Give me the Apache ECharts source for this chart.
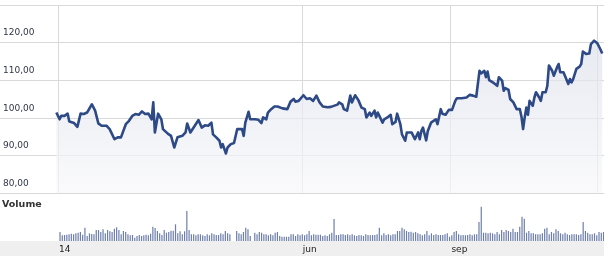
<!DOCTYPE html>
<html><head><meta charset="utf-8">
<script src="https://cdn.jsdelivr.net/npm/echarts@6/dist/echarts.min.js"></script>
<style>html,body{margin:0;padding:0;background:#fff}#c{width:604px;height:256px}</style>
</head><body><div id="c"></div>
<script>
// Price: days since 1 Jan 2014, closing value
const priceDays = [-1,1,2,3,4,6,7,10,11,12,14,16,18,21,23,25,27,30,32,35,37,39,42,44,46,48,50,52,54,56,58,59,60,62,64,65,68,70,72,74,77,79,80,82,84,87,89,91,93,95,96,98,100,101,102,104,105,107,109,111,112,114,115,116,118,119,122,124,126,127,129,130,132,134,136,139,140,142,144,146,147,149,152,154,156,158,160,162,164,167,169,170,173,174,176,177,179,181,182,184,186,188,190,191,193,194,196,197,198,199,201,202,204,206,207,209,210,212,213,215,216,219,220,221,223,224,225,226,228,229,231,232,234,235,237,238,240,242,244,246,247,250,251,253,255,257,258,259,261,262,264,265,266,267,270,272,273,275,276,277,279,280,282,283,284,286,287,288,289,290,291,292,294,295,296,298,299,300,302,303,304,306,307,309,310,311,313,314,316,317,318,319,321,323,324,325,327,329,330,332,334,336,337];
const priceValues = [101.4,99.6,100.5,100.1,100.5,101.1,99.0,98.6,98.3,97.6,101.1,101.0,101.4,103.6,101.9,98.5,97.9,97.9,97.0,94.3,94.8,94.8,98.3,99.2,100.5,101.0,100.8,101.7,101.0,101.1,99.6,104.1,96.1,101.1,99.6,97.0,95.8,95.2,92.1,94.8,95.2,96.1,98.5,96.1,97.4,99.4,97.4,98.0,97.9,98.7,95.6,94.8,93.9,92.1,93.0,90.5,92.1,93.0,93.3,97.0,96.5,97.0,95.2,98.7,101.6,99.6,99.6,99.5,98.6,100.1,99.6,101.4,102.3,103.0,103.0,102.5,102.8,102.3,104.3,105.0,104.3,104.5,106.0,105.0,105.2,104.5,105.9,104.1,103.0,102.8,102.9,102.8,103.5,104.1,103.6,102.3,101.9,105.9,104.1,106.0,104.7,102.7,102.3,100.1,101.4,100.5,101.9,100.1,101.4,100.5,98.7,99.6,100.1,100.8,98.3,98.9,101.1,98.3,95.6,93.9,96.1,96.1,95.2,94.3,96.1,94.3,96.5,97.4,94.0,96.5,98.7,98.7,99.6,98.3,102.3,101.1,100.8,102.1,102.1,104.5,105.2,105.2,104.7,105.4,106.1,105.9,105.9,105.6,112.5,111.8,112.5,110.8,112.3,110.0,109.2,108.5,110.8,109.9,107.2,107.9,107.4,105.0,104.1,104.5,102.3,102.3,100.3,97.0,100.1,102.7,100.8,104.5,103.2,105.4,106.8,105.4,104.5,106.8,106.8,108.5,113.9,112.5,111.2,113.4,114.3,112.1,112.1,111.6,109.0,110.3,109.4,110.3,113.0,113.6,114.3,117.6,117.0,117.1,119.6,120.5,119.8,118.1,117.1];

// Volume: one value per trading day (weekdays 2 Jan .. 4 Dec 2014, market holidays have no volume)
const tradingFirstDay = 1, tradingLastDay = 337;
const marketHolidays = [107, 110, 120];
const volumeValues = [
 9,5.7,6,6.3,6.7,7.3,6.7,7.7,8.3,9, 6.3,13.3,5,7.7,7,6.7,11,11,9,11.7, 7.7,11,9.7,9,12.3,13.7,11,6.7,10,9, 6.7,5.7,6,3.3,5,6,5,5.7,6.3, 5.7,7.3,14.3,13,10,7.7,6,11,8.3,9, 10.3,10.3,16.7,7.7,9.7,6.7,9.7, 30, 11,6.7,6.7,
 5.7,6.7,6.7,5.7,5,6.7,5.7,7.7,6.7,6, 6,7.7,6.7,10,7.7,6.7,
 10,7.7,6.7,9,13.3,11.7,5,
 8.3,6.7,9,8.3,6.7,6.7,5.7,6.7,5.7,8.3, 9,5,4.3,4.3,4.3,4.3,6.7,6.7,5,6.7, 5.7,6.7,5.7,6.7,10,5.7,6.7,6.3,6.3,6.3, 5,5.7,5,6.7,8.3, 22,
 6,6,6.7,6.7,6,6.7,5.7,6.7,5.7,5, 6,5.7,5,6.7,6,5.7,6,6,6.7,13.3, 5.7,7.7,6,6.7,5.7,6.7,6.7,10,10,13.3, 11.7,10,9,9.3,8.3,9,7.7,6.7,5.7,6.7, 10,5.7,7.7,6,6.7,6,6,6,6.7,7.7, 4.3,5.7,9,10,6.7,5.7,6,5.7,6,6.7, 5.7,6.7, 6.7,19, 34.3,
 8.3,8.3,7.7,8.3,7.7,6.7,9,6.7,11, 9,11,10,9,12.3,9,9,14.3,24.3,22.3, 8.3,10,7.7,7.7,6.7,6.7,6.7,7.7,12.3,13.3, 6.7,9,7.7,11.7,10,7.7,6.7,8.3,6.7,6, 6.7,6.7,6.7,6,6.7,19,10,8.3,6.7,6.7, 7.7,5.7,9,8.3,9
];

const yTickValues = [80, 90, 100, 110, 120, 130];
const gridDates = ['2014-01-01', '2014-06-01', '2014-09-01', '2014-12-01'];
const tickLabels = ['14', 'jun', 'sep'];

const DAY = 86400000;
const BASE = Date.UTC(2014, 0, 1);
const toTs = s => Date.UTC(+s.slice(0,4), +s.slice(5,7) - 1, +s.slice(8,10));
const gridTs = gridDates.map(toTs);
const labelTs = gridTs.slice(0, tickLabels.length);
const labelMap = {};
labelTs.forEach((t, i) => { labelMap[t] = tickLabels[i]; });

const priceData = priceDays.map((d, i) => [BASE + d * DAY, priceValues[i]]);

// weekday slots (evenly spaced session axis); holidays keep an empty slot
const volumeData = [];
let slot = 0, vi = 0;
for (let d = tradingFirstDay; d <= tradingLastDay; d++) {
  const wd = new Date(BASE + d * DAY).getUTCDay();
  if (wd === 0 || wd === 6) continue;
  if (marketHolidays.indexOf(d) < 0) volumeData.push([slot, volumeValues[vi++]]);
  slot++;
}

const xMin = BASE - 35.9 * DAY, xMax = BASE + 338.1 * DAY;
const slotMin = -26.5, slotMax = 240.2;
const FONT = 'DejaVu Sans';

const chart = echarts.init(document.getElementById('c'), null, {renderer: 'canvas'});
chart.setOption({
  animation: false,
  backgroundColor: '#ffffff',
  title: {text: 'Volume', left: 2, top: 200, padding: 0,
    textStyle: {fontSize: 9.5, fontWeight: 'bold', color: '#333333', fontFamily: FONT}},
  graphic: [{type: 'rect', z: -10, silent: true,
    shape: {x: 0, y: 241, width: 604, height: 15}, style: {fill: '#efefef'}}],
  grid: [
    {left: 0, right: 0, top: 5, height: 188},
    {left: 0, right: 0, top: 197, height: 44}
  ],
  xAxis: [
    {type: 'value', gridIndex: 0, min: xMin, max: xMax, scale: true,
      axisLine: {show: false}, axisLabel: {show: false},
      axisTick: {show: false, customValues: gridTs},
      splitLine: {show: true, lineStyle: {color: '#d9d9d9', width: 1}}},
    {type: 'value', gridIndex: 1, min: xMin, max: xMax, scale: true,
      axisLine: {show: false}, axisTick: {show: false}, splitLine: {show: false},
      axisLabel: {customValues: labelTs, formatter: v => labelMap[v] || '',
        align: 'left', padding: [0, 0, 0, 1], margin: 4, fontSize: 9, color: '#1a1a1a', fontFamily: FONT}},
    {type: 'value', gridIndex: 1, position: 'top', min: slotMin, max: slotMax, scale: true,
      show: false, splitLine: {show: false}}
  ],
  yAxis: [
    {type: 'value', gridIndex: 0, min: yTickValues[0], max: yTickValues[yTickValues.length - 1], interval: 10,
      axisLine: {show: false}, axisTick: {show: false},
      splitLine: {show: true, lineStyle: {color: '#d9d9d9', width: 1}},
      axisLabel: {inside: true, showMaxLabel: false, margin: 3,
        formatter: v => v.toFixed(2).replace('.', ','),
        verticalAlign: 'bottom', padding: [0, 0, 5, 0],
        fontSize: 9, color: '#2f3748', fontFamily: FONT}},
    {type: 'value', gridIndex: 1, min: 0, max: 44, show: false, splitLine: {show: false}}
  ],
  series: [
    {type: 'line', xAxisIndex: 0, yAxisIndex: 0, data: priceData, showSymbol: false,
      lineStyle: {color: '#2d4a86', width: 2.6, join: 'round'},
      itemStyle: {color: '#2d4a86'},
      areaStyle: {color: new echarts.graphic.LinearGradient(0, 0, 0, 1, [
        {offset: 0, color: '#dde1eb'}, {offset: 1, color: '#f8f8fb'}])},
      z: 3},
    {type: 'bar', xAxisIndex: 2, yAxisIndex: 1, data: volumeData, barWidth: 1.2,
      itemStyle: {color: '#6d7eab'}}
  ]
});
</script></body></html>
